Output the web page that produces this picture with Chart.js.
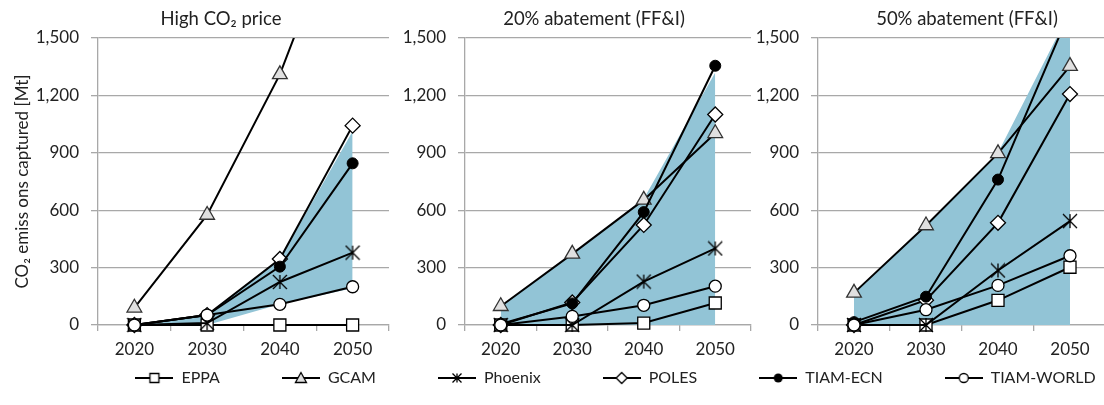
<!DOCTYPE html>
<html><head><meta charset="utf-8">
<script src="https://cdn.jsdelivr.net/npm/chart.js@4.4.0/dist/chart.umd.min.js"></script>
<style>
html,body{margin:0;padding:0;width:1104px;height:405px;overflow:hidden;background:#fff;}
body{position:relative;}
.box{position:absolute;}
</style></head><body>
<div class="box" id="b1" style="left:0;top:0;width:442px;height:362px"><canvas id="c1"></canvas></div>
<div class="box" id="b2" style="left:395px;top:0;width:398px;height:362px"><canvas id="c2"></canvas></div>
<div class="box" id="b3" style="left:748px;top:0;width:438px;height:362px"><canvas id="c3"></canvas></div>
<div class="box" id="bl" style="left:0;top:308px;width:1231px;height:200px"><canvas id="cl"></canvas></div>
<script>
// ---------------- data ----------------
const years = ['2020', '2030', '2040', '2050'];
const seriesNames = ['EPPA', 'GCAM', 'Phoenix', 'POLES', 'TIAM-ECN', 'TIAM-WORLD'];
const panelTitles = ['High CO\u2082 price', '20% abatement (FF&I)', '50% abatement (FF&I)'];
const yAxisTitle = 'CO\u2082 emiss ons captured [Mt]';
const yTicks = [0, 300, 600, 900, 1200, 1500];

// Panel 1: High CO2 price
const eppa1 = [0, 0, 0, 0];
const gcam1 = [90, 575, 1310, 2300];
const phoenix1 = [0, 10, 225, 378];
const poles1 = [0, 52, 345, 1042];
const tiamEcn1 = [0, 52, 305, 845];
const tiamWorld1 = [0, 52, 108, 200];
const rangeLow1 = [0, 0, 108, 192];
const rangeHigh1 = [0, 50, 345, 1012];

// Panel 2: 20% abatement (FF&I)
const eppa2 = [0, 0, 10, 115];
const gcam2 = [98, 372, 654, 1002];
const phoenix2 = [0, 0, 227, 400];
const poles2 = [0, 118, 523, 1100];
const tiamEcn2 = [5, 113, 590, 1355];
const tiamWorld2 = [0, 45, 103, 203];
const rangeLow2 = [0, 0, 0, 0];
const rangeHigh2 = [98, 372, 660, 1320];

// Panel 3: 50% abatement (FF&I)
const eppa3 = [0, 0, 129, 302];
const gcam3 = [168, 520, 897, 1353];
const phoenix3 = [0, 0, 285, 543];
const poles3 = [0, 130, 534, 1207];
const tiamEcn3 = [15, 148, 760, 1640];
const tiamWorld3 = [0, 80, 207, 362];
const rangeLow3 = [0, 0, 0, 0];
const rangeHigh3 = [168, 520, 900, 1640];

// ---------------- styling ----------------
Chart.defaults.font.family = 'Lato, "Open Sans", sans-serif';
Chart.defaults.color = '#222';
const FONT_TICK = 17;
const GRID = '#a8a8a8';
const SHADE = '#92c4d6';

function starCanvas(size) {
  const c = document.createElement('canvas');
  c.width = size; c.height = size;
  const g = c.getContext('2d');
  drawMarker(g, 'star', size / 2, size / 2, size - 2);
  return c;
}
function drawMarker(g, type, x, y, s) {
  const h = s / 2;
  g.save();
  g.lineWidth = 1.3; g.strokeStyle = '#000';
  g.beginPath();
  if (type === 'square') {
    g.rect(x - h, y - h, s, s); g.fillStyle = '#fff'; g.fill(); g.stroke();
  } else if (type === 'triangle') {
    g.moveTo(x, y - h - 1); g.lineTo(x + h + 1, y + h); g.lineTo(x - h - 1, y + h); g.closePath();
    g.fillStyle = '#e0e0e0'; g.fill(); g.stroke();
  } else if (type === 'star') {
    g.moveTo(x - h, y - h); g.lineTo(x + h, y + h);
    g.moveTo(x + h, y - h); g.lineTo(x - h, y + h);
    g.moveTo(x, y - h); g.lineTo(x, y + h);
    g.stroke();
  } else if (type === 'diamond') {
    g.moveTo(x, y - h - 1); g.lineTo(x + h + 1, y); g.lineTo(x, y + h + 1); g.lineTo(x - h - 1, y); g.closePath();
    g.fillStyle = '#fff'; g.fill(); g.stroke();
  } else if (type === 'dot') {
    g.arc(x, y, h, 0, Math.PI * 2); g.fillStyle = '#000'; g.fill();
  } else if (type === 'circle') {
    g.arc(x, y, h, 0, Math.PI * 2); g.fillStyle = '#fff'; g.fill(); g.stroke();
  }
  g.restore();
}
function legendIcon(type) {
  const c = document.createElement('canvas');
  c.width = 38; c.height = 16;
  const g = c.getContext('2d');
  g.strokeStyle = '#000'; g.lineWidth = 2;
  g.beginPath(); g.moveTo(0, 8); g.lineTo(38, 8); g.stroke();
  drawMarker(g, type, 19, 8, 9);
  return c;
}
const markerTypes = ['square', 'triangle', 'star', 'diamond', 'dot', 'circle'];
const starImg = starCanvas(16);
const markerStyles = [
  { pointStyle: 'rect', pointRadius: 8.5, pointBackgroundColor: '#fff', pointBorderColor: '#000', pointBorderWidth: 1.3 },
  { pointStyle: 'triangle', pointRadius: 8.5, pointBackgroundColor: '#e0e0e0', pointBorderColor: '#333', pointBorderWidth: 1.3 },
  { pointStyle: starImg, pointRadius: 8 },
  { pointStyle: 'rectRot', pointRadius: 7.5, pointBackgroundColor: '#fff', pointBorderColor: '#000', pointBorderWidth: 1.3 },
  { pointStyle: 'circle', pointRadius: 5.5, pointBackgroundColor: '#000', pointBorderColor: '#000', pointBorderWidth: 1 },
  { pointStyle: 'circle', pointRadius: 6, pointBackgroundColor: '#fff', pointBorderColor: '#000', pointBorderWidth: 1.3 },
];

const panels = [
  { id: 'c1', title: panelTitles[0], series: [eppa1, gcam1, phoenix1, poles1, tiamEcn1, tiamWorld1], lo: rangeLow1, hi: rangeHigh1, yw: 98, padR: 53, showTitle: true },
  { id: 'c2', title: panelTitles[1], series: [eppa2, gcam2, phoenix2, poles2, tiamEcn2, tiamWorld2], lo: rangeLow2, hi: rangeHigh2, yw: 70, padR: 42, showTitle: false },
  { id: 'c3', title: panelTitles[2], series: [eppa3, gcam3, phoenix3, poles3, tiamEcn3, tiamWorld3], lo: rangeLow3, hi: rangeHigh3, yw: 70, padR: 80, showTitle: false },
];

const clipArea = { left: 12, right: 12, top: 0, bottom: 12 };

panels.forEach(p => {
  const datasets = [
    { label: 'lo', data: p.lo, borderWidth: 0, borderColor: 'transparent', pointRadius: 0, fill: false, order: 11, clip: clipArea },
    { label: 'hi', data: p.hi, borderWidth: 0, borderColor: 'transparent', pointRadius: 0, fill: '-1', backgroundColor: SHADE, order: 10, clip: clipArea },
  ];
  seriesNames.forEach((n, i) => {
    datasets.push(Object.assign({
      label: n, data: p.series[i], borderColor: '#000', borderWidth: 2, tension: 0,
      fill: false, order: 6 - i, clip: clipArea
    }, markerStyles[i]));
  });
  new Chart(document.getElementById(p.id), {
    type: 'line',
    data: { labels: years, datasets },
    options: {
      responsive: true, maintainAspectRatio: false, animation: false, events: [],
      layout: { padding: 0 },
      plugins: {
        legend: { display: false }, tooltip: { enabled: false },
        title: { display: true, text: p.title, color: '#222', font: { size: 18.5, weight: 'normal' }, padding: { top: 7.5, bottom: 8.3 } }
      },
      scales: {
        x: {
          offset: true,
          grid: { offset: true, drawOnChartArea: false, drawTicks: true, tickLength: 6, color: GRID, lineWidth: 1.3 },
          border: { display: true, color: GRID, width: 1.3 },
          ticks: { font: { size: FONT_TICK }, padding: 8, color: '#222', maxRotation: 0 },
          afterFit: s => { s.height = 37; }
        },
        y: {
          min: 0, max: 1500,
          afterBuildTicks: s => { s.ticks = yTicks.map(v => ({ value: v })); },
          grid: { color: GRID, lineWidth: 1.3, tickLength: 7, drawTicks: true },
          border: { display: true, color: GRID, width: 1.3 },
          ticks: { font: { size: FONT_TICK }, padding: 12, color: '#222', callback: v => v.toLocaleString('en-US') },
          title: { display: p.showTitle, text: yAxisTitle, font: { size: 17 }, color: '#222', padding: { top: 12, bottom: 0 } },
          afterFit: s => { s.width = p.yw; }
        },
        spacer: {
          type: 'linear', position: 'right', display: true,
          grid: { display: false }, border: { display: false }, ticks: { display: false },
          afterFit: s => { s.width = p.padR; }
        }
      }
    }
  });
});

// ---------------- legend ----------------
const icons = markerTypes.map(legendIcon);
const LEG_PAD = 62;
new Chart(document.getElementById('cl'), {
  type: 'line',
  data: { labels: [], datasets: seriesNames.map(n => ({ label: n, data: [] })) },
  options: {
    responsive: true, maintainAspectRatio: false, animation: false, events: [],
    scales: { x: { display: false }, y: { display: false } },
    plugins: {
      tooltip: { enabled: false },
      legend: {
        display: true, position: 'top', align: 'center',
        labels: {
          usePointStyle: true, pointStyleWidth: 38, boxHeight: 16, padding: LEG_PAD,
          color: '#222', font: { size: 16 },
          generateLabels: () => seriesNames.map((n, i) => ({
            text: n, pointStyle: icons[i], fillStyle: 'transparent', strokeStyle: 'transparent',
            lineWidth: 0, hidden: false, datasetIndex: i, fontColor: '#222'
          }))
        }
      }
    }
  }
});
</script>
</body></html>
